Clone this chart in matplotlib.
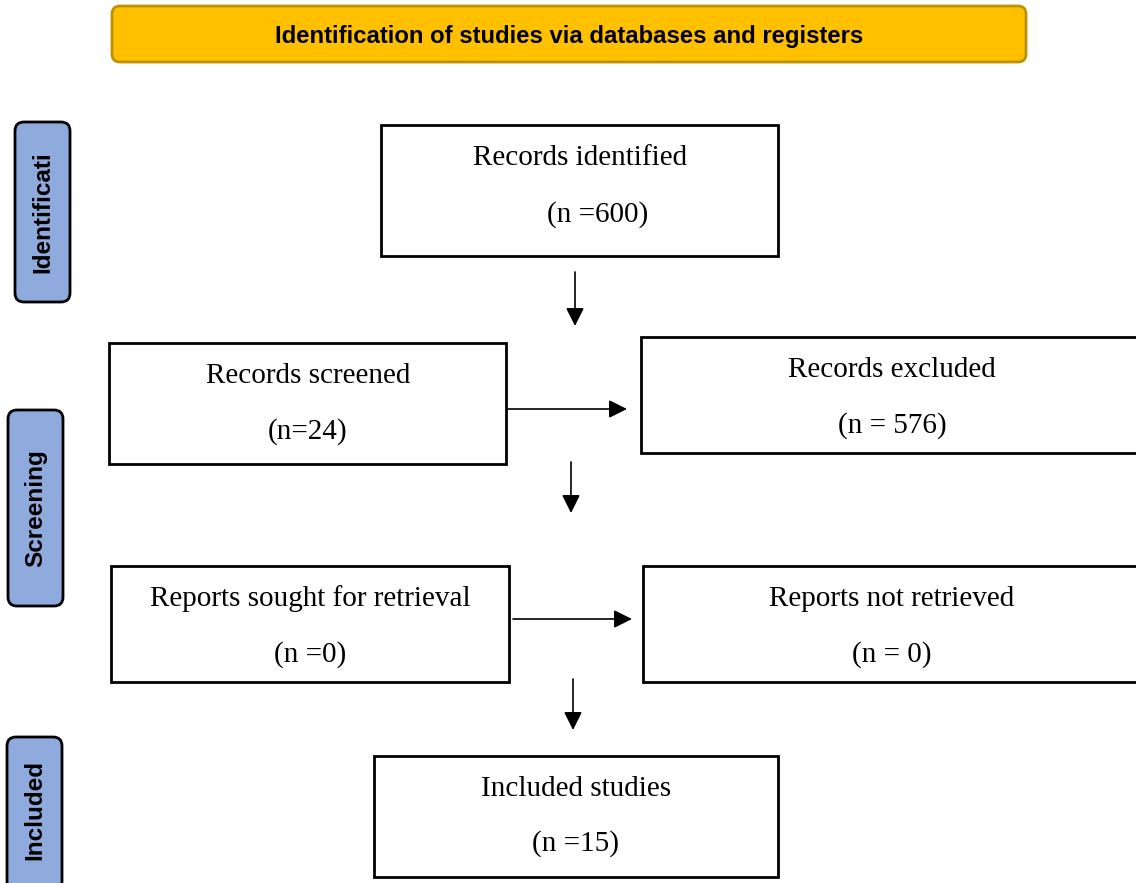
import matplotlib
matplotlib.use('Agg')
import matplotlib.pyplot as plt
from matplotlib.patches import FancyBboxPatch, Rectangle

### Flow diagram content
banner_text = 'Identification of studies via databases and registers'
phase_labels = ['Identificati', 'Screening', 'Included']
box_titles = ['Records identified', 'Records screened', 'Records excluded',
              'Reports sought for retrieval', 'Reports not retrieved',
              'Included studies']
box_counts = ['(n =600)', '(n=24)', '(n = 576)', '(n =0)', '(n = 0)', '(n =15)']

### Layout in pixel units (x0, y0, x1, y1)
box_pos = [(381, 125, 778, 256), (109, 343, 506, 464), (641, 337, 1140, 453),
           (111, 566, 509, 682), (643, 566, 1140, 682), (374, 756, 778, 877)]
text_pos = [(580, 158, 598, 215), (308, 376, 308, 432), (892, 370, 892, 426),
            (310, 599, 310, 655), (892, 599, 892, 655), (576, 789, 576, 844)]
phase_pos = [(15, 122, 70, 302), (8, 410, 63, 606), (7, 737, 62, 890)]
arrows = [(575, 272, 575, 326), (508, 409, 627, 409), (571, 462, 571, 513),
          (513, 619, 632, 619), (573, 679, 573, 730)]

fig = plt.figure(figsize=(11.36, 8.83), dpi=100)
ax = fig.add_axes([0, 0, 1, 1])
ax.set_xlim(0, 1136)
ax.set_ylim(883, 0)
ax.axis('off')

### Banner
ax.add_patch(FancyBboxPatch((112, 6), 914, 56, boxstyle='round,pad=0,rounding_size=8',
                            facecolor='#FFC000', edgecolor='#BF9000', linewidth=2))
ax.text(569, 36, banner_text, ha='center', va='center', fontsize=17.2,
        fontweight='bold', family='Liberation Sans', color='black')

### Phase labels
for lab, (x0, y0, x1, y1) in zip(phase_labels, phase_pos):
    ax.add_patch(FancyBboxPatch((x0, y0), x1 - x0, y1 - y0,
                                boxstyle='round,pad=0,rounding_size=9',
                                facecolor='#8FAADC', edgecolor='black', linewidth=2))
    yc = (y0 + min(y1, 883)) / 2
    ax.text((x0 + x1) / 2, yc, lab, rotation=90, ha='center', va='center',
            fontsize=17.5, fontweight='bold', family='Liberation Sans')

### Boxes
for t, n, (x0, y0, x1, y1), (tx, ty, nx, ny) in zip(box_titles, box_counts, box_pos, text_pos):
    ax.add_patch(Rectangle((x0, y0), x1 - x0, y1 - y0, facecolor='white',
                           edgecolor='black', linewidth=2))
    ax.text(tx, ty, t, ha='center', va='center', fontsize=21, family='Liberation Serif')
    ax.text(nx, ny, n, ha='center', va='center', fontsize=21, family='Liberation Serif')

### Arrows
for x0, y0, x1, y1 in arrows:
    ax.annotate('', xy=(x1, y1), xytext=(x0, y0),
                arrowprops=dict(arrowstyle='-|>,head_length=1.1,head_width=0.55',
                                color='black', lw=1.2, shrinkA=0, shrinkB=0))

plt.savefig('out.png', dpi=100)
